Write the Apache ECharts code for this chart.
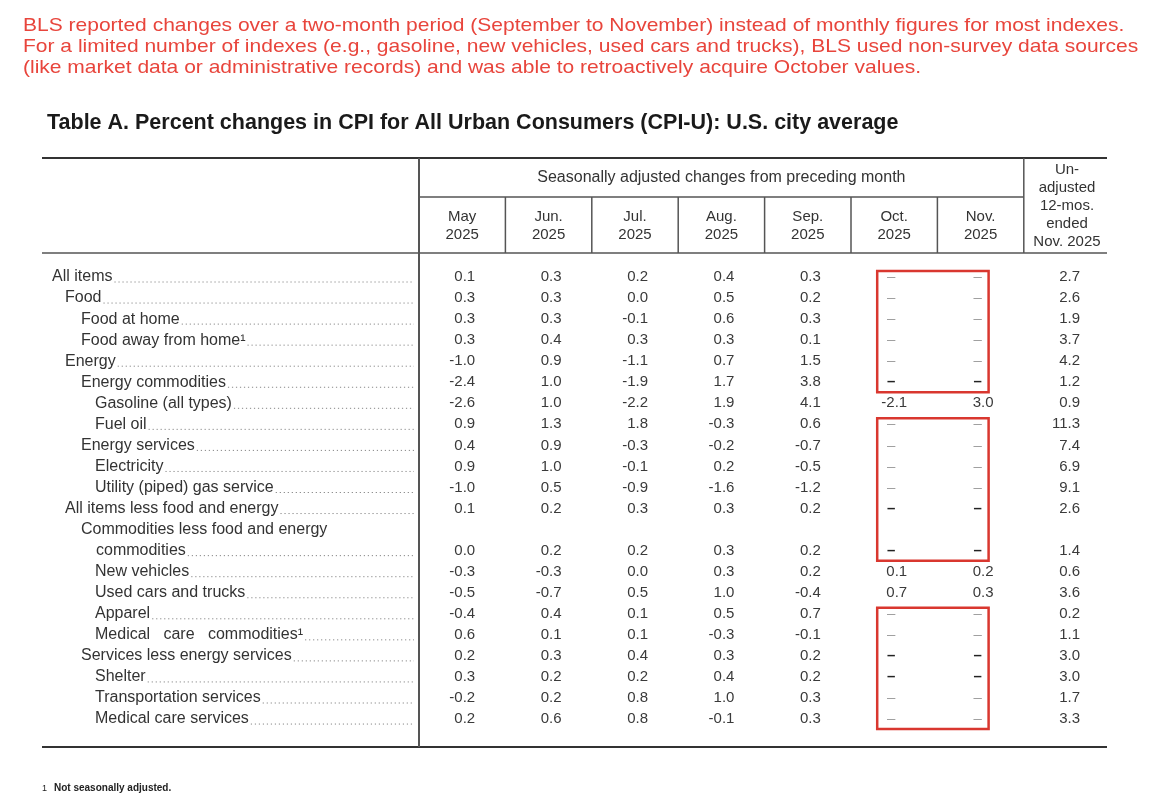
<!DOCTYPE html>
<html>
<head>
<meta charset="utf-8">
<title>Table A. Percent changes in CPI-U</title>
<script src="https://cdn.jsdelivr.net/npm/echarts@6/dist/echarts.min.js"></script>
<style>
    html, body { margin: 0; padding: 0; background: #fff; }
    #main { width: 1151px; height: 805px; }
</style>
</head>
<body>
<div id="main"></div>
<script>
// ====================数据====================
var rowLabels = ['All items', 'Food', 'Food at home', 'Food away from home\u00b9', 'Energy',
    'Energy commodities', 'Gasoline (all types)', 'Fuel oil', 'Energy services', 'Electricity',
    'Utility (piped) gas service', 'All items less food and energy',
    'Commodities less food and energy\ncommodities', 'New vehicles', 'Used cars and trucks',
    'Apparel', 'Medical   care   commodities\u00b9', 'Services less energy services', 'Shelter',
    'Transportation services', 'Medical care services'];
var rowLevel = [0, 1, 2, 2, 1, 2, 3, 3, 2, 3, 3, 1, 2, 3, 3, 3, 3, 2, 3, 3, 3];

var monthHeads = ['May\n2025', 'Jun.\n2025', 'Jul.\n2025', 'Aug.\n2025', 'Sep.\n2025', 'Oct.\n2025', 'Nov.\n2025'];
var yearHead = ['Un-', 'adjusted', '12-mos.', 'ended', 'Nov. 2025'];
var groupHead = 'Seasonally adjusted changes from preceding month';

var may2025 = [0.1, 0.3, 0.3, 0.3, -1.0, -2.4, -2.6, 0.9, 0.4, 0.9, -1.0, 0.1, 0.0, -0.3, -0.5, -0.4, 0.6, 0.2, 0.3, -0.2, 0.2];
var jun2025 = [0.3, 0.3, 0.3, 0.4, 0.9, 1.0, 1.0, 1.3, 0.9, 1.0, 0.5, 0.2, 0.2, -0.3, -0.7, 0.4, 0.1, 0.3, 0.2, 0.2, 0.6];
var jul2025 = [0.2, 0.0, -0.1, 0.3, -1.1, -1.9, -2.2, 1.8, -0.3, -0.1, -0.9, 0.3, 0.2, 0.0, 0.5, 0.1, 0.1, 0.4, 0.2, 0.8, 0.8];
var aug2025 = [0.4, 0.5, 0.6, 0.3, 0.7, 1.7, 1.9, -0.3, -0.2, 0.2, -1.6, 0.3, 0.3, 0.3, 1.0, 0.5, -0.3, 0.3, 0.4, 1.0, -0.1];
var sep2025 = [0.3, 0.2, 0.3, 0.1, 1.5, 3.8, 4.1, 0.6, -0.7, -0.5, -1.2, 0.2, 0.2, 0.2, -0.4, 0.7, -0.1, 0.2, 0.2, 0.3, 0.3];
var oct2025 = [null, null, null, null, null, null, -2.1, null, null, null, null, null, null, 0.1, 0.7, null, null, null, null, null, null];
var nov2025 = [null, null, null, null, null, null, 3.0, null, null, null, null, null, null, 0.2, 0.3, null, null, null, null, null, null];
var yearEnded = [2.7, 2.6, 1.9, 3.7, 4.2, 1.2, 0.9, 11.3, 7.4, 6.9, 9.1, 2.6, 1.4, 0.6, 3.6, 0.2, 1.1, 3.0, 3.0, 1.7, 3.3];

var noteText = ['BLS reported changes over a two-month period (September to November) instead of monthly figures for most indexes.',
    'For a limited number of indexes (e.g., gasoline, new vehicles, used cars and trucks), BLS used non-survey data sources',
    '(like market data or administrative records) and was able to retroactively acquire October values.'];
var titleText = 'Table A. Percent changes in CPI for All Urban Consumers (CPI-U): U.S. city average';
var footText = 'Not seasonally adjusted.';

// 红框圈出的行（Oct/Nov 两列）
var boxedRows = [[0, 5], [7, 12], [15, 20]];
// 粗一些的破折号
var darkDash = [5, 11, 12, 17, 18];

// ====================布局====================
var FONT = '"Liberation Sans", Arial, sans-serif';
var tableLeft = 42, tableRight = 1107;
var gridLeft = 419, colW = 86.4, rowH = 21.05, firstRowY = 277;
var slotCount = rowLabels.length + 1; // 两行标签多占一个位置
var levelX = [52, 65, 81, 95];

// 第12项标签有两行，之后的行下移一格
function slotOf(i) { return i < 12 ? i : i + 1; }

var columns = [may2025, jun2025, jul2025, aug2025, sep2025, oct2025, nov2025, yearEnded];
var cellData = [];
columns.forEach(function (arr, c) {
    arr.forEach(function (v, r) {
        cellData.push({ col: c, row: r, v: v });
    });
});

var measureCtx = document.createElement('canvas').getContext('2d');
function textWidth(str, font) {
    measureCtx.font = font;
    return measureCtx.measureText(str).width;
}

var myChart = echarts.init(document.getElementById('main'), null, { renderer: 'canvas' });

var labelFont = '16px ' + FONT;
var valueFont = '15px ' + FONT;

function renderCell(params, api) {
    var c = cellData[params.dataIndex];
    var p = api.coord([api.value(0), api.value(1)]);
    if (c.v === null) {
        var dark = darkDash.indexOf(c.row) > -1;
        return {
            type: 'text', x: p[0] - 3, y: p[1],
            style: {
                text: '\u2013', fill: dark ? '#222' : '#a0a0a0',
                font: (dark ? 'bold ' : '') + valueFont,
                textAlign: 'center', textVerticalAlign: 'middle', align: 'center', verticalAlign: 'middle'
            }
        };
    }
    return {
        type: 'text', x: p[0] + 13, y: p[1],
        style: {
            text: c.v.toFixed(1), fill: '#3a3a3a', font: valueFont,
            textAlign: 'right', textVerticalAlign: 'middle', align: 'right', verticalAlign: 'middle'
        }
    };
}

function renderLabel(params, api) {
    var i = params.dataIndex;
    var y = api.coord([0, api.value(1)])[1];
    var x = levelX[rowLevel[i]];
    var children = [];
    var lines = rowLabels[i].split('\n');
    if (lines.length > 1) {
        // 第一行放在上一格，第二行再缩进
        var y0 = api.coord([0, api.value(1) - 1])[1];
        children.push({
            type: 'text', x: x, y: y0,
            style: { text: lines[0], fill: '#333', font: labelFont, textVerticalAlign: 'middle', verticalAlign: 'middle' }
        });
        x += 15;
    }
    var last = lines[lines.length - 1];
    children.push({
        type: 'text', x: x, y: y,
        style: { text: last, fill: '#333', font: labelFont, textVerticalAlign: 'middle', verticalAlign: 'middle' }
    });
    var endX = x + textWidth(last, labelFont) + 2;
    children.push({
        type: 'line',
        shape: { x1: endX, y1: y + 5, x2: gridLeft - 5, y2: y + 5 },
        style: { stroke: '#888', lineWidth: 1, lineDash: [1.2, 2.8] }
    });
    return { type: 'group', children: children };
}

function renderBox(params, api) {
    var b = boxedRows[params.dataIndex];
    var p1 = api.coord([5, slotOf(b[0])]);
    var p2 = api.coord([6, slotOf(b[1])]);
    var x1 = p1[0] - 17, x2 = p2[0] + 8;
    var y1 = p1[1] - 6, y2 = p2[1] + 10;
    return {
        type: 'rect',
        shape: { x: x1, y: y1, width: x2 - x1, height: y2 - y1 },
        style: { fill: 'none', stroke: '#d9372f', lineWidth: 2.5 }
    };
}

// ====================表头和框线====================
var graphics = [];
// 原图红字较扁，横向稍拉宽
noteText.forEach(function (t, i) {
    graphics.push({
        type: 'text', x: 23, y: [26, 47, 68][i], scaleX: 1.13,
        style: { text: t, fill: '#e8453c', font: '18.6px ' + FONT, textVerticalAlign: 'middle', verticalAlign: 'middle' }
    });
});
graphics.push({
    type: 'text', x: 47, y: 123,
    style: { text: titleText, fill: '#1a1a1a', font: 'bold 21.5px ' + FONT, textVerticalAlign: 'middle', verticalAlign: 'middle' }
});

function hLine(x1, x2, y, w, c) {
    graphics.push({ type: 'line', shape: { x1: x1, y1: y, x2: x2, y2: y }, style: { stroke: c || '#444', lineWidth: w || 1.5 } });
}
function vLine(x, y1, y2, w, c) {
    graphics.push({ type: 'line', shape: { x1: x, y1: y1, x2: x, y2: y2 }, style: { stroke: c || '#555', lineWidth: w || 1.5 } });
}
var monthsRight = gridLeft + 7 * colW;
hLine(tableLeft, tableRight, 158, 2, '#333');
hLine(gridLeft, monthsRight, 197, 1.5, '#555');
hLine(tableLeft, tableRight, 253, 1.5, '#555');
hLine(tableLeft, tableRight, 747, 2, '#333');
vLine(gridLeft, 158, 747, 2, '#555');
vLine(monthsRight, 158, 253);
for (var k = 1; k < 7; k++) {
    vLine(gridLeft + k * colW, 197, 253);
}
graphics.push({
    type: 'text', x: (gridLeft + monthsRight) / 2, y: 178,
    style: { text: groupHead, fill: '#333', font: '16px ' + FONT, textAlign: 'center', align: 'center', textVerticalAlign: 'middle', verticalAlign: 'middle' }
});
monthHeads.forEach(function (t, c) {
    t.split('\n').forEach(function (line, j) {
        graphics.push({
            type: 'text', x: gridLeft + (c + 0.5) * colW, y: 217 + j * 18,
            style: { text: line, fill: '#333', font: '15px ' + FONT, textAlign: 'center', align: 'center', textVerticalAlign: 'middle', verticalAlign: 'middle' }
        });
    });
});
yearHead.forEach(function (line, j) {
    graphics.push({
        type: 'text', x: gridLeft + 7.5 * colW, y: 170 + j * 18,
        style: { text: line, fill: '#333', font: '15px ' + FONT, textAlign: 'center', align: 'center', textVerticalAlign: 'middle', verticalAlign: 'middle' }
    });
});
graphics.push({
    type: 'text', x: 42, y: 789,
    style: { text: '1', fill: '#222', font: '9px ' + FONT, textVerticalAlign: 'middle', verticalAlign: 'middle' }
});
graphics.push({
    type: 'text', x: 54, y: 788,
    style: { text: footText, fill: '#222', font: 'bold 10px ' + FONT, textVerticalAlign: 'middle', verticalAlign: 'middle' }
});

var slots = [];
for (var s = 0; s < slotCount; s++) { slots.push(String(s)); }

var option = {
    animation: false,
    backgroundColor: '#fff',
    grid: {
        left: gridLeft,
        top: firstRowY - rowH / 2,
        width: colW * 8,
        height: rowH * slotCount
    },
    xAxis: {
        type: 'category',
        show: false,
        data: ['May', 'Jun', 'Jul', 'Aug', 'Sep', 'Oct', 'Nov', '12mo']
    },
    yAxis: {
        type: 'category',
        show: false,
        inverse: true,
        data: slots
    },
    graphic: graphics,
    series: [{
        name: 'cells',
        type: 'custom',
        renderItem: renderCell,
        silent: true,
        data: cellData.map(function (c) { return [c.col, slotOf(c.row)]; })
    }, {
        name: 'labels',
        type: 'custom',
        renderItem: renderLabel,
        silent: true,
        data: rowLabels.map(function (t, i) { return [0, slotOf(i)]; })
    }, {
        name: 'boxes',
        type: 'custom',
        renderItem: renderBox,
        silent: true,
        data: boxedRows.map(function (b) { return [5, slotOf(b[0]), slotOf(b[1])]; })
    }]
};

myChart.setOption(option);
</script>
</body>
</html>
